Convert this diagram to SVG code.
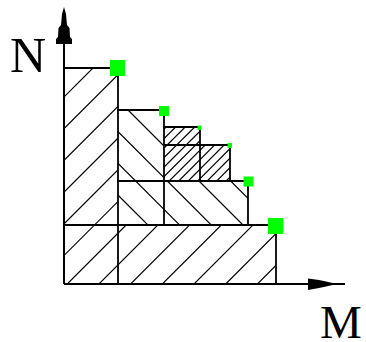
<svg xmlns="http://www.w3.org/2000/svg" width="366" height="342" viewBox="0 0 366 342">
<style>
.ax{stroke:#000;stroke-width:2;fill:none}
.ol{stroke:#000;stroke-width:1.8;fill:none;stroke-linecap:square}
.h{stroke:#000;stroke-width:1.2;fill:none}
.pt{fill:#00ff00}
.lbl{font-family:"Liberation Serif","Times New Roman",serif;font-size:50px;fill:#000}
</style>
<defs>
<clipPath id="cA"><polygon points="64,68 118,68 118,225 276,225 276,284 64,284"/></clipPath>
<clipPath id="cB"><polygon points="118,110 164,110 164,181 248,181 248,225 118,225"/></clipPath>
<clipPath id="cC"><polygon points="164,127 200,127 200,145 230,145 230,181 164,181"/></clipPath>
</defs>
<rect width="366" height="342" fill="#fff"/>
<g id="hatch-A" clip-path="url(#cA)" class="h">
<line x1="-139" y1="300" x2="161" y2="0"/>
<line x1="-107.3" y1="300" x2="192.7" y2="0"/>
<line x1="-75.6" y1="300" x2="224.4" y2="0"/>
<line x1="-43.9" y1="300" x2="256.1" y2="0"/>
<line x1="-12.2" y1="300" x2="287.8" y2="0"/>
<line x1="19.5" y1="300" x2="319.5" y2="0"/>
<line x1="51.2" y1="300" x2="351.2" y2="0"/>
<line x1="82.9" y1="300" x2="382.9" y2="0"/>
<line x1="114.6" y1="300" x2="414.6" y2="0"/>
<line x1="146.3" y1="300" x2="446.3" y2="0"/>
<line x1="178" y1="300" x2="478" y2="0"/>
<line x1="209.7" y1="300" x2="509.7" y2="0"/>
<line x1="241.4" y1="300" x2="541.4" y2="0"/>
</g>
<g id="hatch-B" clip-path="url(#cB)" class="h">
<line x1="49.7" y1="0" x2="349.7" y2="300"/>
<line x1="18" y1="0" x2="318" y2="300"/>
<line x1="-13.7" y1="0" x2="286.3" y2="300"/>
<line x1="-45.4" y1="0" x2="254.6" y2="300"/>
<line x1="-77.1" y1="0" x2="222.9" y2="300"/>
</g>
<g id="hatch-C" clip-path="url(#cC)" class="h">
<line x1="93.2" y1="200" x2="293.2" y2="0"/>
<line x1="102.7" y1="200" x2="302.7" y2="0"/>
<line x1="112.2" y1="200" x2="312.2" y2="0"/>
<line x1="121.7" y1="200" x2="321.7" y2="0"/>
<line x1="131.2" y1="200" x2="331.2" y2="0"/>
<line x1="140.7" y1="200" x2="340.7" y2="0"/>
<line x1="150.2" y1="200" x2="350.2" y2="0"/>
<line x1="159.7" y1="200" x2="359.7" y2="0"/>
<line x1="169.2" y1="200" x2="369.2" y2="0"/>
<line x1="178.7" y1="200" x2="378.7" y2="0"/>
<line x1="188.2" y1="200" x2="388.2" y2="0"/>
<line x1="197.7" y1="200" x2="397.7" y2="0"/>
<line x1="207.2" y1="200" x2="407.2" y2="0"/>
</g>
<g id="outlines" class="ol">
<line x1="64" y1="68" x2="118" y2="68"/>
<line x1="118" y1="68" x2="118" y2="284"/>
<line x1="118" y1="110" x2="164" y2="110"/>
<line x1="164" y1="110" x2="164" y2="225"/>
<line x1="164" y1="127" x2="200" y2="127"/>
<line x1="200" y1="127" x2="200" y2="181"/>
<line x1="164" y1="145" x2="230" y2="145"/>
<line x1="230" y1="145" x2="230" y2="181"/>
<line x1="118" y1="181" x2="248" y2="181"/>
<line x1="248" y1="181" x2="248" y2="225"/>
<line x1="64" y1="225" x2="276" y2="225"/>
<line x1="276" y1="225" x2="276" y2="284"/>
</g>
<g id="axis-N">
<line class="ax" x1="64" y1="10" x2="64" y2="284"/>
<polygon points="64,7 66,14 67,25 69.5,28 70,37 72,39 72,44 56,44 56,39 58,37 58.5,28 61,25 62,14" fill="#000"/>
<text class="lbl" x="10" y="72">N</text>
</g>
<g id="axis-M">
<line class="ax" x1="64" y1="284" x2="345" y2="284"/>
<polygon points="308,278.5 319,280 326,281.5 337,284 326,286.5 319,288 308,290" fill="#000"/>
<text class="lbl" x="320" y="338" style="font-size:47px">M</text>
</g>
<g id="points">
<rect class="pt" x="110" y="60" width="15" height="16"/>
<rect class="pt" x="159" y="106" width="10" height="10"/>
<rect class="pt" x="197.5" y="125.5" width="4" height="4.5"/>
<rect class="pt" x="227.5" y="143" width="4.5" height="5"/>
<rect class="pt" x="243.5" y="176.5" width="10" height="10"/>
<rect class="pt" x="268" y="218" width="15.5" height="16"/>
</g>
</svg>
